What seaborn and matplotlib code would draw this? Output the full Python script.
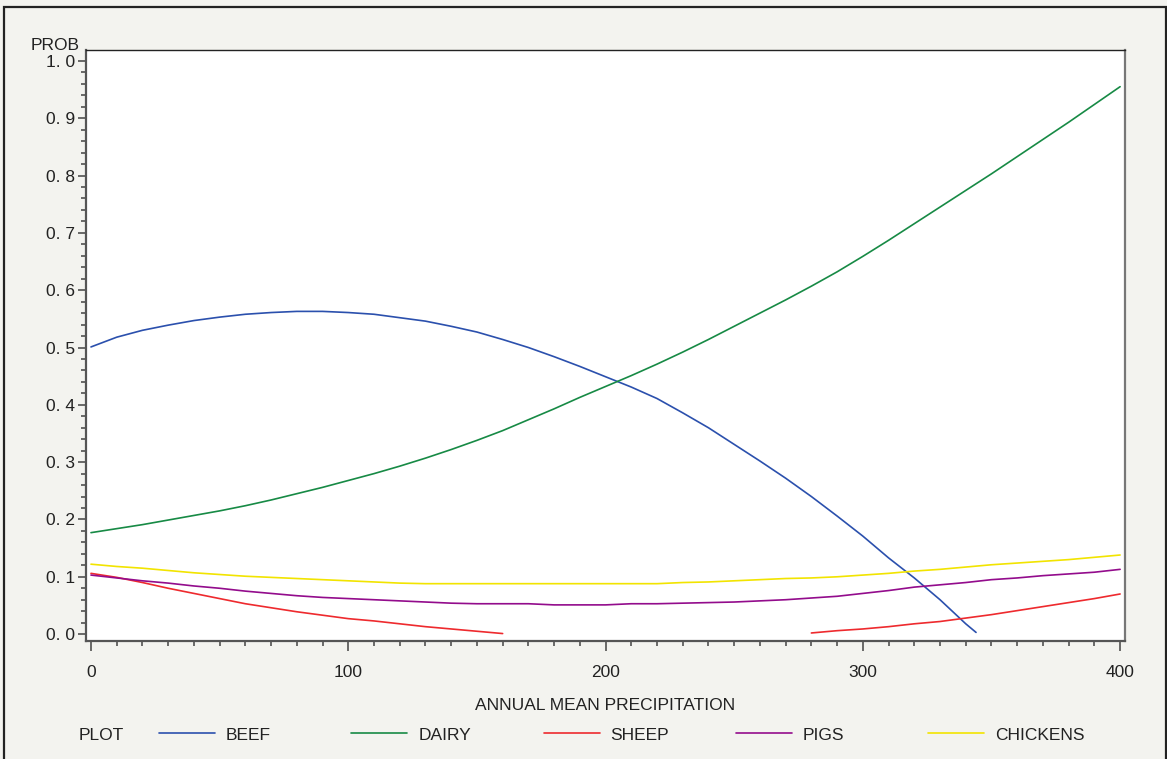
import numpy as np
import pandas as pd
import matplotlib
matplotlib.use("Agg")
import matplotlib.pyplot as plt
from matplotlib.lines import Line2D
from matplotlib.patches import Rectangle
from matplotlib.ticker import MultipleLocator, FuncFormatter
import seaborn as sns

sns.set_style("white")
plt.rcParams["font.family"] = ["Liberation Sans", "DejaVu Sans"]

# precipitation grid (step 10) and predicted probabilities
precip = list(range(0, 410, 10))

beef = [0.501, 0.518, 0.530, 0.539, 0.547, 0.553, 0.558, 0.561, 0.563, 0.563,
        0.561, 0.558, 0.552, 0.546, 0.537, 0.527, 0.514, 0.500, 0.484, 0.467,
        0.449, 0.431, 0.411, 0.386, 0.360, 0.331, 0.302, 0.272, 0.240, 0.206,
        0.171, 0.133, 0.098, 0.060, 0.018]
beef_end_x = 344
beef_end_y = 0.003

dairy = [0.177, 0.184, 0.191, 0.199, 0.207, 0.215, 0.224, 0.234, 0.245, 0.256,
         0.268, 0.280, 0.293, 0.307, 0.322, 0.338, 0.355, 0.374, 0.393, 0.413,
         0.432, 0.451, 0.471, 0.492, 0.514, 0.537, 0.560, 0.583, 0.607, 0.632,
         0.659, 0.687, 0.716, 0.745, 0.774, 0.803, 0.833, 0.863, 0.893, 0.924,
         0.955]

sheep = [0.106, 0.099, 0.090, 0.080, 0.071, 0.062, 0.053, 0.046, 0.039, 0.033,
         0.027, 0.023, 0.018, 0.013, 0.009, 0.005, 0.001,
         None, None, None, None, None, None, None, None, None, None, None,
         0.002, 0.006, 0.009, 0.013, 0.018, 0.022, 0.028, 0.034, 0.041, 0.048,
         0.055, 0.062, 0.070]

pigs = [0.103, 0.098, 0.093, 0.089, 0.084, 0.080, 0.075, 0.071, 0.067, 0.064,
        0.062, 0.060, 0.058, 0.056, 0.054, 0.053, 0.053, 0.053, 0.051, 0.051,
        0.051, 0.053, 0.053, 0.054, 0.055, 0.056, 0.058, 0.060, 0.063, 0.066,
        0.071, 0.076, 0.082, 0.086, 0.090, 0.095, 0.098, 0.102, 0.105, 0.108,
        0.113]

chickens = [0.122, 0.118, 0.115, 0.111, 0.107, 0.104, 0.101, 0.099, 0.097, 0.095,
            0.093, 0.091, 0.089, 0.088, 0.088, 0.088, 0.088, 0.088, 0.088, 0.088,
            0.088, 0.088, 0.088, 0.090, 0.091, 0.093, 0.095, 0.097, 0.098, 0.100,
            0.103, 0.106, 0.110, 0.113, 0.117, 0.121, 0.124, 0.127, 0.130, 0.134,
            0.138]

animals = ["BEEF", "DAIRY", "SHEEP", "PIGS", "CHICKENS"]
colors = ["#2b50ad", "#178a45", "#ee2a2e", "#930c8c", "#f2e400"]

# build long table; split sheep into two segments at the gap
rows = []
for x, y in zip(precip, beef):
    rows.append((x, y, "BEEF", 0))
rows.append((beef_end_x, beef_end_y, "BEEF", 0))
for x, y in zip(precip, dairy):
    rows.append((x, y, "DAIRY", 0))
for x, y in zip(precip, sheep):
    if y is not None:
        rows.append((x, y, "SHEEP", 0 if x < 200 else 1))
for x, y in zip(precip, pigs):
    rows.append((x, y, "PIGS", 0))
for x, y in zip(precip, chickens):
    rows.append((x, y, "CHICKENS", 0))
df = pd.DataFrame(rows, columns=["precip", "prob", "animal", "seg"])

W, H = 1167, 759
fs = 12.5
txt_col = "#222222"
fig = plt.figure(figsize=(W / 100, H / 100), dpi=100, facecolor="#f3f3ef")
ax = fig.add_axes([86 / W, 1 - 641 / H, (1125 - 86) / W, (641 - 50) / H])
ax.set_facecolor("white")

sns.lineplot(data=df, x="precip", y="prob", hue="animal", units="seg",
             estimator=None, hue_order=animals, palette=colors,
             linewidth=1.2, legend=False, ax=ax)

ax.set_xlim(-1.94, 401.9)
ax.set_ylim(-0.012, 1.019)

ax.xaxis.set_major_locator(MultipleLocator(100))
ax.xaxis.set_minor_locator(MultipleLocator(10))
ax.yaxis.set_major_locator(MultipleLocator(0.1))
ax.yaxis.set_minor_locator(MultipleLocator(0.02))
ax.yaxis.set_major_formatter(FuncFormatter(lambda v, _: f"{v:.1f}".replace(".", ". ")))
ax.xaxis.set_major_formatter(FuncFormatter(lambda v, _: f"{v:.0f}"))
ax.xaxis.set_ticks_position("bottom")
ax.yaxis.set_ticks_position("left")

tick_col = "#444444"
ax.tick_params(axis="both", which="both", direction="out", colors=tick_col,
               labelcolor=txt_col, labelsize=fs)
ax.tick_params(axis="x", which="major", length=7.5, width=1.1, pad=10)
ax.tick_params(axis="x", which="minor", length=3.8, width=1.1)
ax.tick_params(axis="y", which="major", length=6, width=1.1, pad=2)
ax.tick_params(axis="y", which="minor", length=3.5, width=1.1)

for side in ["left", "bottom"]:
    ax.spines[side].set_color("#555555")
    ax.spines[side].set_linewidth(1.6)
ax.spines["top"].set_color("#222222")
ax.spines["top"].set_linewidth(1.0)
ax.spines["right"].set_color("#777777")
ax.spines["right"].set_linewidth(1.6)

ax.set_xlabel("ANNUAL MEAN PRECIPITATION", fontsize=fs, color=txt_col)
ax.xaxis.set_label_coords(0.5, (641 - 698) / 591)
ax.set_ylabel("PROB", rotation=0, fontsize=fs, color=txt_col,
              ha="center", va="center")
ax.yaxis.set_label_coords((55 - 86) / 1039, (641 - 45) / 591)

# legend row laid out at fixed column spacing
leg_y = 1 - 733 / H
fig.text(79 / W, 1 - 735 / H, "PLOT", fontsize=fs, color=txt_col,
         ha="left", va="center")
for i, (name, col) in enumerate(zip(animals, colors)):
    x0 = 159 + i * 192.3
    fig.add_artist(Line2D([x0 / W, (x0 + 56) / W], [leg_y, leg_y],
                          color=col, linewidth=1.2, transform=fig.transFigure))
    fig.text((x0 + 67) / W, 1 - 735 / H, name, fontsize=fs,
             color=txt_col, ha="left", va="center")

# outer frame
fig.add_artist(Rectangle((4 / W, -0.05), (1166 - 4) / W, 1.05 - 7 / H,
                         transform=fig.transFigure, fill=False,
                         edgecolor="#222222", linewidth=1.6))

fig.savefig("out.png", dpi=100, facecolor=fig.get_facecolor())
